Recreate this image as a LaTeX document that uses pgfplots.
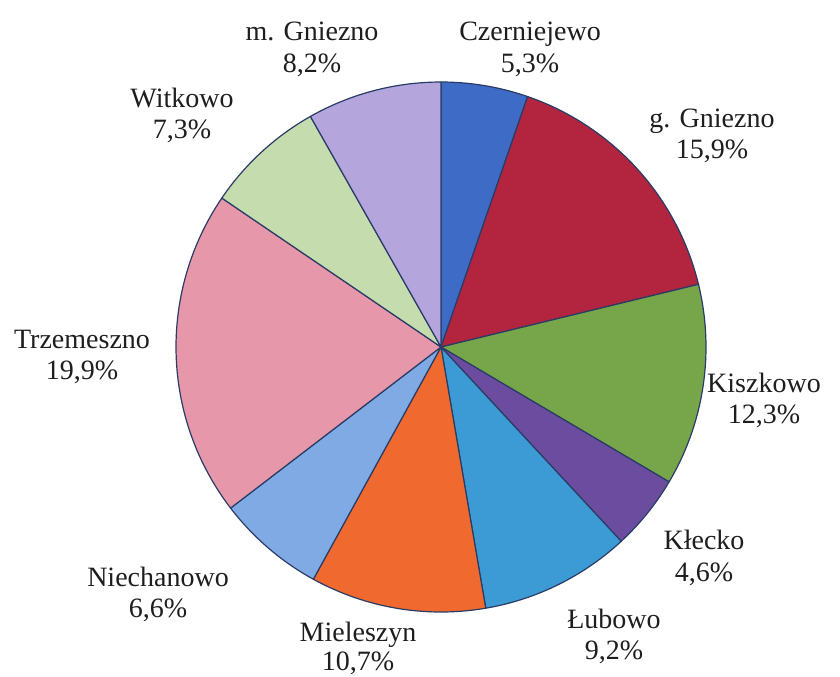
\documentclass[border=0pt]{standalone}
\usepackage{pgfplots}
\usepackage{pgfplotstable}
\pgfplotsset{compat=1.18}
\usepackage{fontspec}
\setmainfont{Liberation Serif}
\newfontfamily\labfont{Liberation Serif}
\definecolor{pie0}{HTML}{3D6BC6}
\definecolor{pie1}{HTML}{B3243F}
\definecolor{pie2}{HTML}{77A64A}
\definecolor{pie3}{HTML}{6B4C9E}
\definecolor{pie4}{HTML}{3C9BD4}
\definecolor{pie5}{HTML}{F06A30}
\definecolor{pie6}{HTML}{7FAAE4}
\definecolor{pie7}{HTML}{E697A9}
\definecolor{pie8}{HTML}{C5DCAE}
\definecolor{pie9}{HTML}{B4A5DD}
\definecolor{pieline}{HTML}{2A3C66}
\definecolor{labtext}{HTML}{1E1E1E}
% shares in percent, clockwise from the top
\pgfplotstableread{
share
5.3
15.9
12.3
4.6
9.2
10.7
6.6
19.9
7.3
8.2
}\pietable
\begin{document}
\begin{tikzpicture}
\begin{axis}[width=420pt,height=338pt,scale only axis,hide axis,clip=false,
  xmin=0,xmax=840,ymin=0,ymax=676,y dir=reverse]
\def\cum{0}
\pgfplotsforeachungrouped \i in {0,...,9}{%
  \pgfplotstablegetelem{\i}{share}\of\pietable
  \pgfmathsetmacro\angA{90-3.6*(\cum+\pgfplotsretval)}%
  \pgfmathsetmacro\angB{90-3.6*\cum}%
  \pgfmathsetmacro\cum{\cum+\pgfplotsretval}%
  \edef\doplot{\noexpand\addplot[fill=pie\i, draw=pieline, line width=0.6pt, line join=round,
     domain=\angA:\angB, samples=60, variable=\noexpand\t]
     ({441+265*cos(\noexpand\t)},{347-265*sin(\noexpand\t)}) -- (axis cs:441,347) -- cycle;}%
  \doplot
}
\tikzset{lab/.style={anchor=base,text=labtext,font=\labfont\fontsize{14}{16}\selectfont,inner sep=0pt}}
\node[lab] at (axis cs:312,40) {m. Gniezno};
\node[lab] at (axis cs:312,72) {8,2\%};
\node[lab] at (axis cs:530,40) {Czerniejewo};
\node[lab] at (axis cs:530,72) {5,3\%};
\node[lab] at (axis cs:712,127) {g. Gniezno};
\node[lab] at (axis cs:712,158) {15,9\%};
\node[lab] at (axis cs:764,392) {Kiszkowo};
\node[lab] at (axis cs:764,423) {12,3\%};
\node[lab] at (axis cs:704,549) {Kłecko};
\node[lab] at (axis cs:704,581) {4,6\%};
\node[lab] at (axis cs:614,628) {Łubowo};
\node[lab] at (axis cs:614,659) {9,2\%};
\node[lab] at (axis cs:358,641) {Mieleszyn};
\node[lab] at (axis cs:358,670) {10,7\%};
\node[lab] at (axis cs:158,586) {Niechanowo};
\node[lab] at (axis cs:158,617) {6,6\%};
\node[lab] at (axis cs:82,348) {Trzemeszno};
\node[lab] at (axis cs:82,379) {19,9\%};
\node[lab] at (axis cs:182,107) {Witkowo};
\node[lab] at (axis cs:182,138) {7,3\%};
\coordinate (bl) at (axis cs:0,676);
\coordinate (tr) at (axis cs:840,0);
\end{axis}
\pgfresetboundingbox
\path (bl) rectangle (tr);
\end{tikzpicture}
\end{document}
